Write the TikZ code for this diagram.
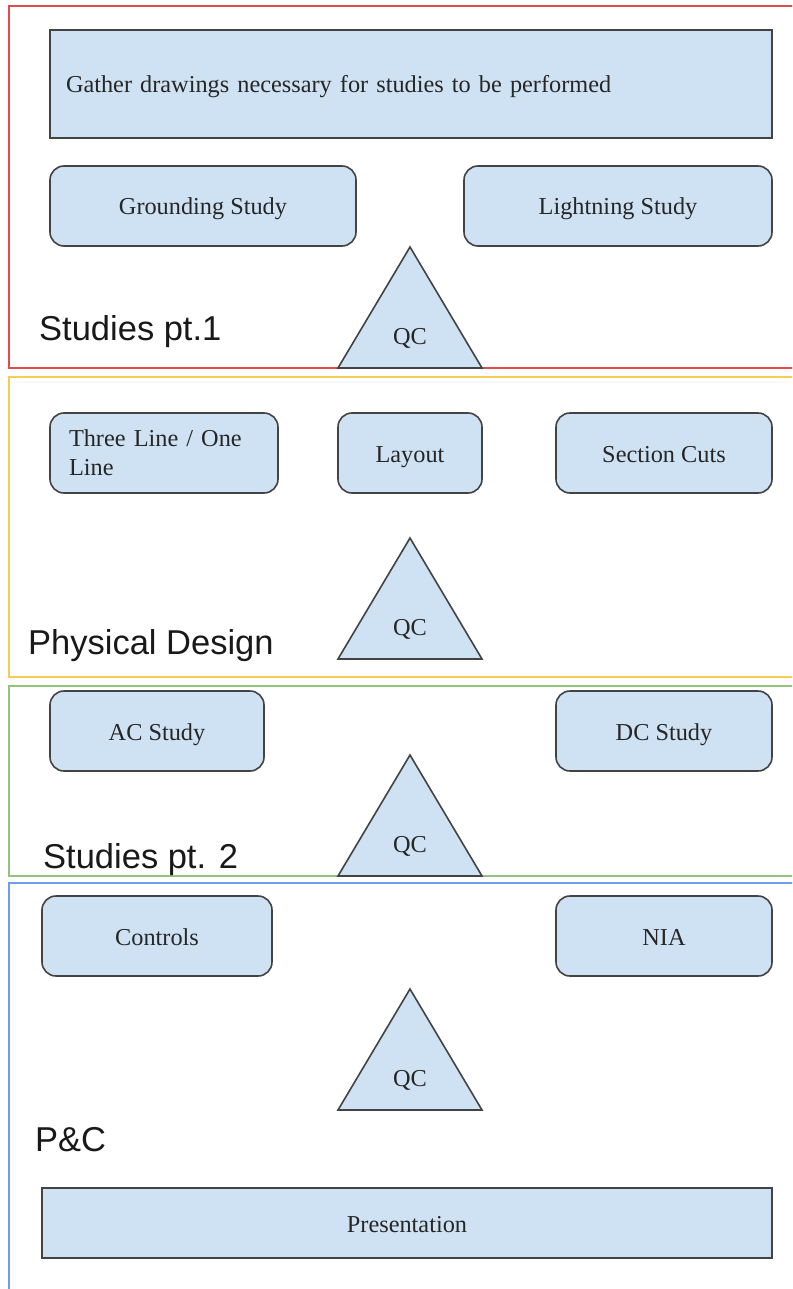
\documentclass[tikz,border=0pt]{standalone}
\usepackage{fontspec}
\setmainfont{Liberation Serif}
\newfontfamily\secfont{Liberation Sans}
\definecolor{boxfill}{HTML}{CFE2F3}
\definecolor{boxdraw}{HTML}{434343}
\definecolor{redframe}{HTML}{E04B4B}
\definecolor{yellowframe}{HTML}{F6CB55}
\definecolor{greenframe}{HTML}{93C47D}
\definecolor{blueframe}{HTML}{6D9EEB}
\begin{document}
\begin{tikzpicture}[x=1pt,y=-1pt,font=\fontsize{24.3}{29}\selectfont]
	\useasboundingbox (0,0)rectangle(792,1289);
	\clip (0,0)rectangle(792,1289);
	\tikzset{box/.style={draw=boxdraw,fill=boxfill,line width=1.6pt,text=black!85,inner sep=0pt,minimum height=80pt,text height=20pt,text depth=2pt}}
	\tikzset{rbox/.style={box,rounded corners=14pt}}
	\tikzset{frame/.style={line width=1.8pt}}
	\tikzset{seclabel/.style={anchor=base west,inner sep=0pt,font=\secfont\fontsize{34.5}{38}\selectfont,text=black!90}}
	\tikzset{QC/.pic={
			\draw[fill=boxfill,draw=boxdraw,line width=1.6pt](-72,0)--(0,-121)--(72,0)--cycle;
			\node[text=black!85] (-lbl) at (0,-30) {QC};
	}}
	% khung cac phan
	\foreach \ya/\yb/\col in {6/368/redframe,377/677/yellowframe,686/876/greenframe,883/1300/blueframe}
	\draw[frame,\col](9,\ya)rectangle(800,\yb);
	% Studies pt.1
	\node[box,minimum width=722pt,minimum height=108pt,text width=690pt,align=left] (gather) at (411,84) {Gather drawings necessary for studies to be performed};
	\node[rbox,minimum width=306pt] (grounding) at (203,206) {Grounding Study};
	\node[rbox,minimum width=308pt] (lightning) at (618,206) {Lightning Study};
	% Physical Design
	\node[rbox,minimum width=228pt,text width=190pt,align=left,text height=,text depth=] (threeline) at (164,453) {Three Line / One\\Line};
	\node[rbox,minimum width=144pt] (layout) at (410,453) {Layout};
	\node[rbox,minimum width=216pt] (sectioncuts) at (664,453) {Section Cuts};
	% Studies pt. 2
	\node[rbox,minimum width=214pt] (acstudy) at (157,731) {AC Study};
	\node[rbox,minimum width=216pt] (dcstudy) at (664,731) {DC Study};
	% P&C
	\node[rbox,minimum width=230pt] (controls) at (157,936) {Controls};
	\node[rbox,minimum width=216pt] (nia) at (664,936) {NIA};
	\node[box,minimum width=730pt,minimum height=70pt] (presentation) at (407,1223) {Presentation};
	\foreach \b/\n in {368/1,659/2,876/3,1110/4}
	\path(410,\b)pic(qc\n){QC};
	\path(39,340)node[seclabel](lblA){Studies pt.1}
	(28,654)node[seclabel](lblB){Physical Design}
	(43,868)node[seclabel](lblC){Studies pt. 2}
	(35,1151)node[seclabel](lblD){P\&C};
\end{tikzpicture}
\end{document}
